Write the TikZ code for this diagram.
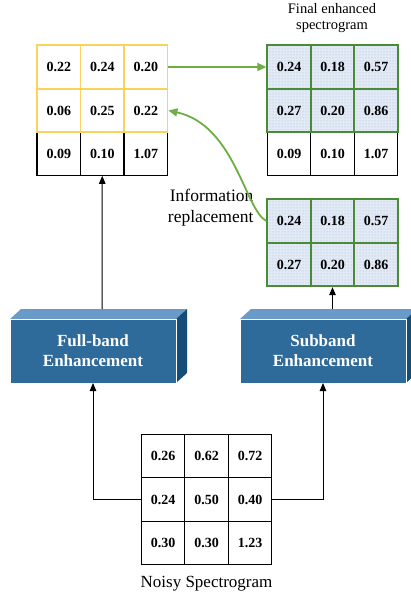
\documentclass[tikz,border=0pt]{standalone}
\usepackage{fontspec}
\setmainfont{Liberation Serif}
\usetikzlibrary{arrows.meta,patterns}

\definecolor{cellyellow}{HTML}{F9D45C}
\definecolor{cellgreen}{HTML}{4B8A36}
\definecolor{arrowgreen}{HTML}{6DAE45}
\definecolor{dotfill}{HTML}{E2EAF5}
\definecolor{dotcol}{HTML}{9FB6D6}
\definecolor{boxfront}{HTML}{2E6A9A}
\definecolor{boxtop}{HTML}{6A9BC8}
\definecolor{boxside}{HTML}{134D78}

\tikzset{
  cell/.style={draw=black, line width=1.1pt, minimum width=43.5pt, minimum height=43.5pt,
    inner sep=0pt, font=\bfseries\fontsize{14}{16}\selectfont},
  ycell/.style={cell, draw=cellyellow, line width=1.8pt},
  gcell/.style={cell, draw=cellgreen, line width=1.8pt,
    preaction={fill=dotfill}, pattern=dots, pattern color=dotcol},
  blockfront/.style={fill=boxfront, draw=white, line width=0.4pt, minimum width=166pt,
    minimum height=64pt, inner sep=0pt, text=white,
    font=\bfseries\fontsize{17}{20}\selectfont, align=center},
  flow/.style={draw=black, line width=1pt, -{Triangle[length=8pt,width=6.5pt]}},
  gflow/.style={draw=arrowgreen, line width=1.8pt, -{Triangle[length=9pt,width=8pt]}},
  caption/.style={font=\fontsize{17.5}{21}\selectfont, align=right},
}

\begin{document}
\begin{tikzpicture}[x=1pt,y=-1pt]
\useasboundingbox (0,0) rectangle (411,598);
\fill[white] (0,0) rectangle (411,598);

% top-left grid: full-band output, two rows replaced
\node[cell]  (L31) at (58.75,153.5) {0.09};
\node[cell]  (L32) at (102.25,153.5) {0.10};
\node[cell]  (L33) at (145.75,153.5) {1.07};
\node[ycell] (L11) at (58.75,67) {0.22};
\node[ycell] (L12) at (102.25,67) {0.24};
\node[ycell] (L13) at (145.75,67) {0.20};
\node[ycell] (L21) at (58.75,110.5) {0.06};
\node[ycell] (L22) at (102.25,110.5) {0.25};
\node[ycell] (L23) at (145.75,110.5) {0.22};

% top-right grid: final enhanced spectrogram
\node[font=\fontsize{14.5}{16}\selectfont, align=center] (ftitle) at (332,18)
  {Final enhanced\\spectrogram};
\node[cell]  (F31) at (289,153.5) {0.09};
\node[cell]  (F32) at (332.5,153.5) {0.10};
\node[cell]  (F33) at (376,153.5) {1.07};
\node[gcell] (F11) at (289,67) {0.24};
\node[gcell] (F12) at (332.5,67) {0.18};
\node[gcell] (F13) at (376,67) {0.57};
\node[gcell] (F21) at (289,110.5) {0.27};
\node[gcell] (F22) at (332.5,110.5) {0.20};
\node[gcell] (F23) at (376,110.5) {0.86};

% middle-right grid: subband output
\node[gcell] (S11) at (289,221) {0.24};
\node[gcell] (S12) at (332.5,221) {0.18};
\node[gcell] (S13) at (376,221) {0.57};
\node[gcell] (S21) at (289,264.5) {0.27};
\node[gcell] (S22) at (332.5,264.5) {0.20};
\node[gcell] (S23) at (376,264.5) {0.86};

\node[caption, anchor=east] (infolbl) at (257,208) {Information\\replacement};

% 3-D blocks
\fill[boxtop]  (10,319) -- (21,309) -- (187,309) -- (176,319) -- cycle;
\fill[boxside] (176,319) -- (187,309) -- (187,373) -- (176,383) -- cycle;
\node[blockfront] (full) at (93,351) {Full-band\\Enhancement};

\fill[boxtop]  (240,319) -- (251,309) -- (417,309) -- (406,319) -- cycle;
\fill[boxside] (406,319) -- (417,309) -- (417,373) -- (406,383) -- cycle;
\node[blockfront] (sub) at (323,351) {Subband\\Enhancement};

% noisy input grid
\node[cell] (N11) at (163,456) {0.26};
\node[cell] (N12) at (206.5,456) {0.62};
\node[cell] (N13) at (250,456) {0.72};
\node[cell] (N21) at (163,499.5) {0.24};
\node[cell] (N22) at (206.5,499.5) {0.50};
\node[cell] (N23) at (250,499.5) {0.40};
\node[cell] (N31) at (163,543) {0.30};
\node[cell] (N32) at (206.5,543) {0.30};
\node[cell] (N33) at (250,543) {1.23};
\node[font=\fontsize{17}{20}\selectfont] (noisylbl) at (206.5,584) {Noisy Spectrogram};

% connectors
\coordinate (fullin) at (93,383);
\coordinate (subin) at (323,383);
\coordinate (fulltop) at (102,309);
\coordinate (subtop) at (332.5,309);
\draw[flow] (N21.west) -| (fullin);
\draw[flow] (N23.east) -| (subin);
\draw[flow] (fulltop) -- (L32.south);
\draw[flow] (subtop) -- (S22.south);

\draw[gflow] (L13.east) -- (F11.west);
\draw[gflow] (S11.west) .. controls (245,210) and (235,125) .. (L23.east);
\end{tikzpicture}
\end{document}
